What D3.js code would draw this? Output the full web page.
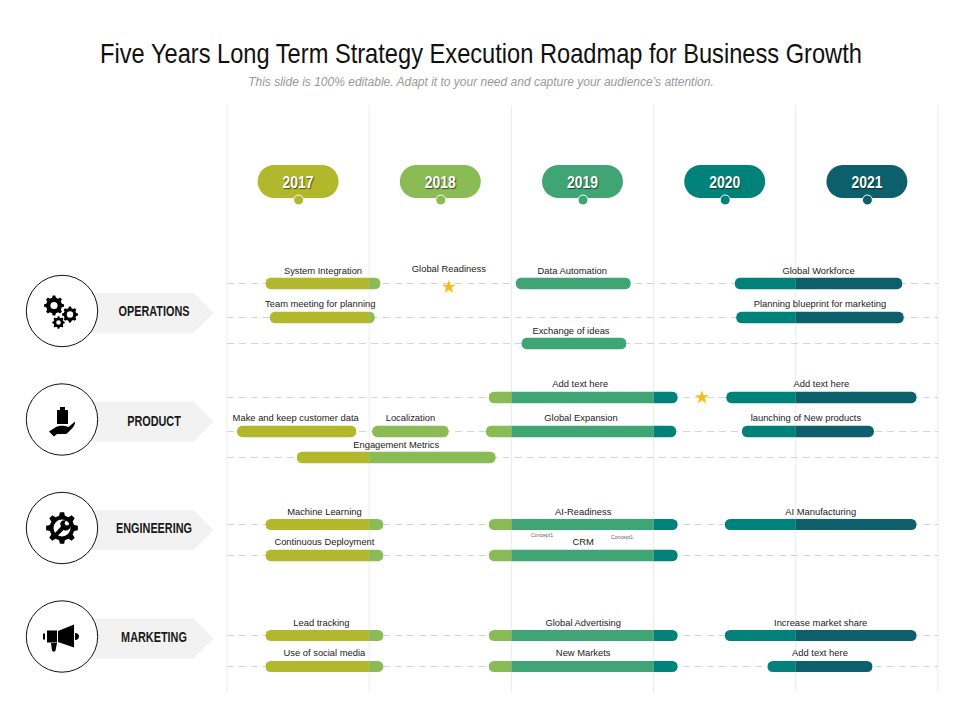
<!DOCTYPE html>
<html>
<head>
<meta charset="utf-8">
<script src="https://cdn.jsdelivr.net/npm/d3@7"></script>
<style>
  html, body { margin: 0; padding: 0; background: #fff; }
  svg { display: block; }
  text { font-family: "Liberation Sans", Arial, sans-serif; }
</style>
</head>
<body>
<div id="chart"></div>
<script>
// the chart's data
const years = [2017, 2018, 2019, 2020, 2021];
const categories = ["OPERATIONS", "PRODUCT", "ENGINEERING", "MARKETING"];
const rowIds = ["op1", "op2", "op3", "pr1", "pr2", "pr3", "en1", "en2", "ma1", "ma2"];

const barLabels = [
  "System Integration", "Data Automation", "Global Workforce",
  "Team meeting for planning", "Planning blueprint for marketing",
  "Exchange of ideas",
  "Add text here", "Add text here",
  "Make and  keep customer data", "Localization", "Global Expansion", "launching of New  products",
  "Engagement Metrics",
  "Machine Learning", "AI-Readiness", "AI Manufacturing",
  "Continuous Deployment", "CRM",
  "Lead tracking", "Global Advertising", "Increase market share",
  "Use of social media", "New Markets", "Add text here"
];
const barRows = [
  "op1", "op1", "op1",
  "op2", "op2",
  "op3",
  "pr1", "pr1",
  "pr2", "pr2", "pr2", "pr2",
  "pr3",
  "en1", "en1", "en1",
  "en2", "en2",
  "ma1", "ma1", "ma1",
  "ma2", "ma2", "ma2"
];
// bar start and end, in years on the time axis
const barStarts = [
  2017.27, 2019.03, 2020.57,
  2017.30, 2020.58,
  2019.07,
  2018.84, 2020.51,
  2017.07, 2018.02, 2018.82, 2020.62,
  2017.49,
  2017.27, 2018.84, 2020.50,
  2017.27, 2018.84,
  2017.27, 2018.84, 2020.50,
  2017.27, 2018.84, 2020.80
];
const barEnds = [
  2018.08, 2019.84, 2021.75,
  2018.04, 2021.76,
  2019.81,
  2020.17, 2021.85,
  2017.91, 2018.56, 2020.16, 2021.55,
  2018.89,
  2018.10, 2020.17, 2021.85,
  2018.10, 2020.17,
  2018.10, 2020.17, 2021.85,
  2018.10, 2020.17, 2021.54
];

const starLabels = ["Global Readiness", ""];
const starYears = [2018.56, 2020.34];
const starRows = ["op1", "pr1"];
const noteLabels = ["Concept1", "Concept1"];
const noteYears = [2019.215, 2019.778];

// colours and layout
const yearColors = ["#b1b82c", "#8abb54", "#3fa574", "#00827a", "#0e5f6c"];
const rowY = [283.5, 317.5, 343.5, 397.5, 431.5, 457.5, 524.5, 555.5, 635.5, 666.5];
const barHeights = [12, 12, 12, 12, 12, 12, 11, 12, 11, 11];
const labelGaps = [9.5, 10.5, 9.5, 10.5, 10.5, 10, 9.5, 10.5, 9.5, 10.5];
const categoryY = [311, 419.5, 528, 636.5];
const categoryBaseline = [5, 6, 5, 5.5];
const labelShift = [0, -1, 0, -2, 0, -3, -3, 0, -1, 0, 0, -2, 0, 0, 0, 0, 0, 0, -3, 0, 0, 0, 0, 0];

const width = 960;
const height = 720;

const svg = d3.select("#chart").append("svg")
  .attr("width", width).attr("height", height);

const x = d3.scaleLinear().domain([2017, 2022]).range([227, 938]);
const y = d3.scaleOrdinal().domain(rowIds).range(rowY);
const barH = d3.scaleOrdinal().domain(rowIds).range(barHeights);
const labelGap = d3.scaleOrdinal().domain(rowIds).range(labelGaps);
const color = d3.scaleThreshold().domain(years.slice(1)).range(yearColors);

// title, squeezed because no narrow font is installed
const title = svg.append("text")
  .attr("text-anchor", "middle")
  .attr("font-size", 27).attr("fill", "#111")
  .text("Five Years Long Term Strategy Execution Roadmap for Business Growth");
title.attr("transform", `translate(481,62.5) scale(${762 / title.node().getComputedTextLength()},1)`);
svg.append("text")
  .attr("x", 481).attr("y", 86).attr("text-anchor", "middle")
  .attr("font-size", 12).attr("font-style", "italic").attr("fill", "#999")
  .text("This slide is 100% editable. Adapt it to your need and capture your audience\u2019s attention.");

// year gridlines
svg.append("g").selectAll("line")
  .data(x.ticks(5))
  .join("line")
  .attr("x1", d => x(d)).attr("x2", d => x(d))
  .attr("y1", 105).attr("y2", 692)
  .attr("stroke", "#e9ecec").attr("stroke-width", 1);

// dashed row lines
svg.append("g").selectAll("line")
  .data(rowIds)
  .join("line")
  .attr("x1", 227).attr("x2", 938)
  .attr("y1", d => y(d)).attr("y2", d => y(d))
  .attr("stroke", "#d5d5d5").attr("stroke-width", 1)
  .attr("stroke-dasharray", "7 5");

// year pills
const pills = svg.append("g").selectAll("g")
  .data(years)
  .join("g")
  .attr("transform", d => `translate(${x(d + 0.5)},0)`);
pills.append("rect")
  .attr("x", -40.5).attr("y", 165).attr("width", 81).attr("height", 33).attr("rx", 16.5)
  .attr("fill", d => color(d));
pills.append("circle")
  .attr("cx", 0.5).attr("cy", 200).attr("r", 5)
  .attr("fill", d => color(d)).attr("stroke", "#fff").attr("stroke-width", 1);
pills.append("text")
  .attr("transform", "translate(0,188) scale(0.82,1)")
  .attr("text-anchor", "middle")
  .attr("font-size", 17).attr("font-weight", "bold").attr("fill", "#fff")
  .style("text-shadow", "1px 1px 1px rgba(0,0,0,0.55)")
  .text(d => d);

// bars, one piece per calendar year, round ends only on the outside
const bars = barLabels.map((label, i) => ({
  label, row: barRows[i], start: barStarts[i], end: barEnds[i], dx: labelShift[i]
}));

const barGroups = svg.append("g").selectAll("g")
  .data(bars)
  .join("g");

barGroups.each(function(d, i) {
  const h = barH(d.row);
  const top = y(d.row) - h / 2;
  const clipId = "bar-clip-" + i;
  const g = d3.select(this);
  g.append("clipPath").attr("id", clipId).append("rect")
    .attr("x", x(d.start)).attr("y", top)
    .attr("width", x(d.end) - x(d.start)).attr("height", h)
    .attr("rx", h / 2);
  const pieces = years.filter(yr => yr < d.end && yr + 1 > d.start);
  g.append("g").attr("clip-path", `url(#${clipId})`)
    .selectAll("rect")
    .data(pieces)
    .join("rect")
    .attr("x", yr => x(Math.max(yr, d.start)))
    .attr("y", top)
    .attr("width", yr => x(Math.min(yr + 1, d.end)) - x(Math.max(yr, d.start)))
    .attr("height", h)
    .attr("fill", yr => color(yr));
  g.append("text")
    .attr("x", (x(d.start) + x(d.end)) / 2 + d.dx)
    .attr("y", y(d.row) - labelGap(d.row))
    .attr("text-anchor", "middle")
    .attr("font-size", 9.4).attr("fill", "#222")
    .text(d.label);
});

// stars
starYears.forEach((yr, i) => {
  svg.append("path")
    .attr("d", d3.symbol(d3.symbolStar, 60)())
    .attr("transform", `translate(${x(yr)},${y(starRows[i]) + (i === 0 ? 3.5 : 0)})`)
    .attr("fill", "#f7bb10");
  svg.append("text")
    .attr("x", x(yr)).attr("y", y(starRows[i]) - 12)
    .attr("text-anchor", "middle")
    .attr("font-size", 9.4).attr("fill", "#222")
    .text(starLabels[i]);
});

// the two tiny notes next to CRM
noteLabels.forEach((t, i) => {
  svg.append("text")
    .attr("x", x(noteYears[i])).attr("y", 537 + i * 2)
    .attr("text-anchor", "middle")
    .attr("font-size", 5.2).attr("fill", "#666")
    .text(t);
});

// gear outline around the centre, used by two of the icons
function gearPath(cx, cy, rOut, rIn, rHole, teeth) {
  const step = Math.PI * 2 / teeth;
  const pts = [];
  for (let t = 0; t < teeth; t++) {
    const a = t * step;
    pts.push([a - step * 0.30, rIn], [a - step * 0.17, rOut], [a + step * 0.17, rOut], [a + step * 0.30, rIn]);
  }
  let d = pts.map((p, i) => (i ? "L" : "M") + (cx + p[1] * Math.cos(p[0])).toFixed(2) + " " + (cy + p[1] * Math.sin(p[0])).toFixed(2)).join("") + "Z";
  if (rHole > 0) {
    d += `M${cx + rHole} ${cy}A${rHole} ${rHole} 0 1 0 ${cx - rHole} ${cy}A${rHole} ${rHole} 0 1 0 ${cx + rHole} ${cy}Z`;
  }
  return d;
}

const icons = [
  g => {
    g.append("path").attr("fill-rule", "evenodd").attr("d",
      gearPath(-8, -5.5, 10, 8, 3.6, 8) + gearPath(8, 3.5, 8, 6.4, 3.2, 8) + gearPath(-3.5, 11.5, 6.2, 5, 2.3, 8));
  },
  g => {
    g.append("path").attr("d", "M-5 -9.5H6V4.5H-5Z M-2 -9.5V-12.5H3V-9.5Z");
    g.append("path").attr("d",
      "M-13 12L-6 7.5C-3 6 0 6 3 6.5L6.5 7.5L13 2C13.5 4 12 6.5 10 9L6 13C5 14 4 14.5 2 14.5L-5 14.5L-8 17Z");
  },
  g => {
    g.append("path").attr("fill-rule", "evenodd").attr("d",
      gearPath(0, 0, 16, 12.5, 0, 8) + "M0 -8.5A8.5 8.5 0 1 0 0 8.5A8.5 8.5 0 1 0 0 -8.5Z");
    g.append("path").attr("d", "M-7 5L-1 -1.5A4.5 4.5 0 0 1 0.5 -7.5L4.5 -8L2.5 -5L3.5 -3L6 -2.5L8 -5A5 5 0 0 1 1.5 2L-4.5 8Z");
  },
  g => {
    g.append("path").attr("d",
      "M-15 -6H-5V6H-15Z M-19 -3H-17V3H-19Z M-4 -5.5L12 -12V11L-4 5.5Z M13 -3.5C16 -3.5 17 -1.5 17 0C17 1.5 16 3.5 13 3.5Z M-11 6.5H-5L-6.5 14C-7 15.5 -9.5 15.5 -10 14Z");
  }
];

// category tags and icons
const tags = svg.append("g").selectAll("g")
  .data(categories)
  .join("g")
  .attr("transform", (d, i) => `translate(0,${categoryY[i]})`);
tags.append("path")
  .attr("d", "M90 -18H193.5L213.5 2L193.5 22H90Z")
  .attr("fill", "#f2f2f2");
tags.append("circle")
  .attr("cx", 62).attr("cy", 0).attr("r", 35.7)
  .attr("fill", "#fff").attr("stroke", "#111").attr("stroke-width", 1);
tags.append("text")
  .attr("transform", (d, i) => `translate(154,${categoryBaseline[i]}) scale(0.75,1)`)
  .attr("text-anchor", "middle")
  .attr("font-size", 14.5).attr("font-weight", "bold").attr("fill", "#1a1a1a")
  .text(d => d);
tags.append("g")
  .attr("transform", "translate(62,0)")
  .attr("fill", "#000")
  .each(function(d, i) { icons[i](d3.select(this)); });
</script>
</body>
</html>
